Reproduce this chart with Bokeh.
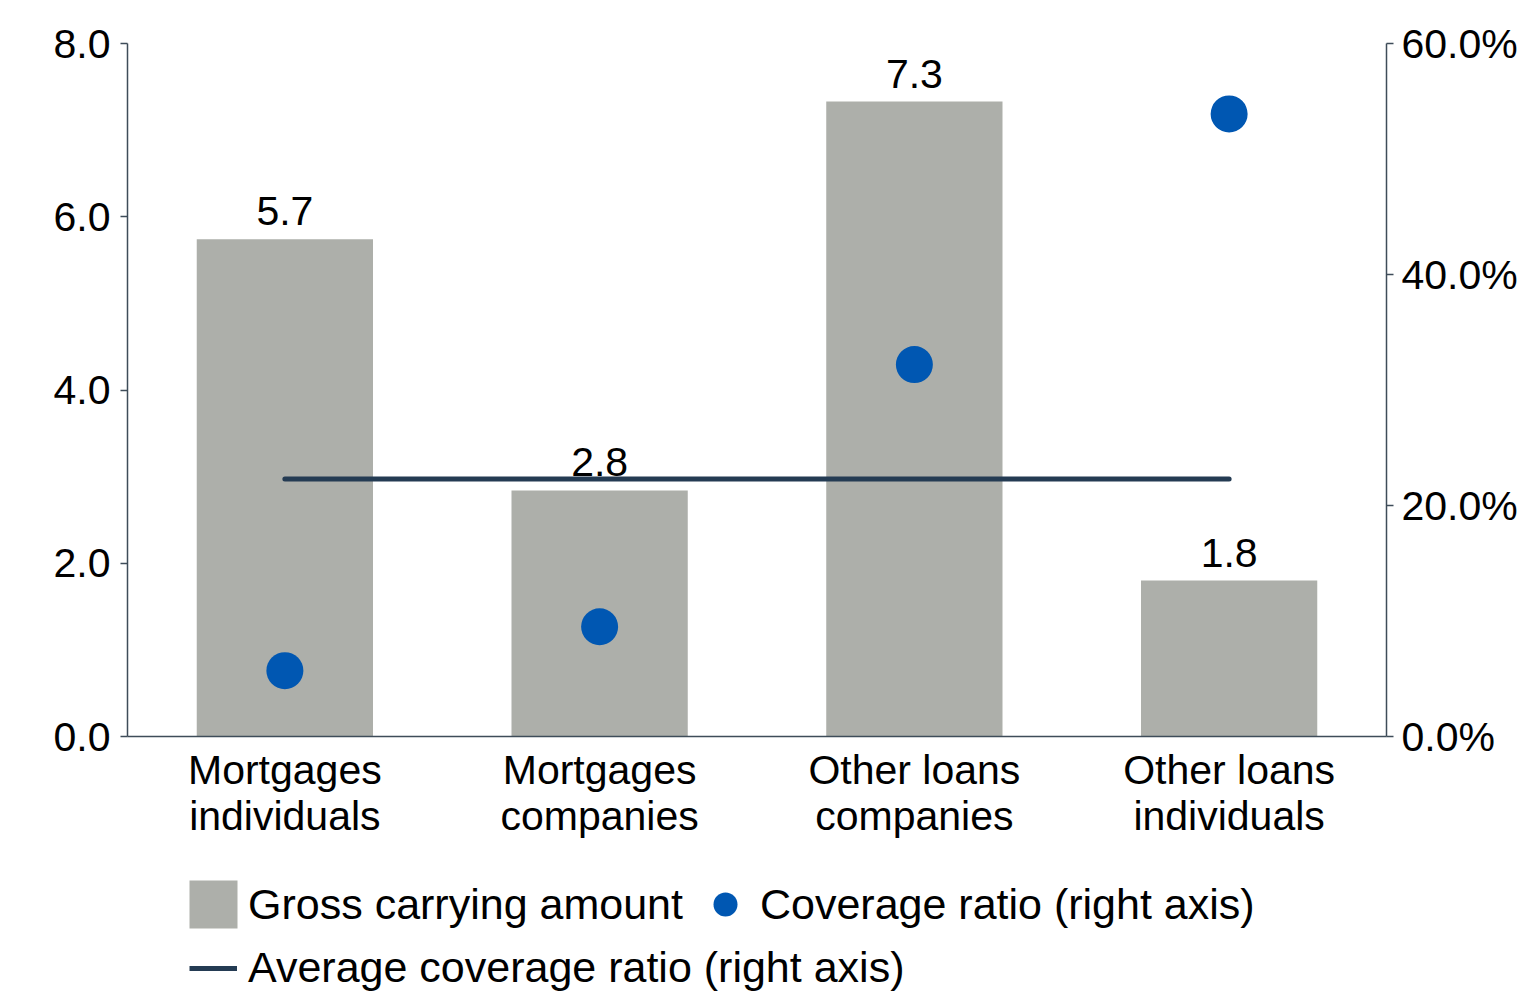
from bokeh.plotting import figure
from bokeh.layouts import column
from bokeh.models import (Range1d, FactorRange, LinearAxis, FixedTicker, PrintfTickFormatter,
                          Legend, LegendItem, ColumnDataSource)
from bokeh.core.properties import value
from bokeh.embed import file_html
from bokeh.resources import INLINE

# ---- data ----
categories = ["Mortgages\nindividuals", "Mortgages\ncompanies", "Other loans\ncompanies", "Other loans\nindividuals"]
gross_carrying_amount = [5.74, 2.84, 7.33, 1.80]
coverage_ratio = [5.7, 9.5, 32.2, 53.9]
average_coverage_ratio = [22.3]
left_ticks = [0, 2, 4, 6, 8]
right_ticks = [0, 20, 40, 60]
legend_labels = ["Gross carrying amount", "Coverage ratio (right axis)", "Average coverage ratio (right axis)"]

FONT = "Liberation Sans"
FS = "41px"
LFS = "43px"
BAR_COLOR = "#ADAFAA"
DOT_COLOR = "#0057B2"
LINE_COLOR = "#243B53"
AXIS_COLOR = "#3E4C59"

MAIN_H = 850
p = figure(width=1532, height=MAIN_H, output_backend="svg", toolbar_location=None,
           x_range=FactorRange(factors=categories, range_padding=0),
           y_range=Range1d(0, 8),
           min_border_left=127, min_border_right=146, min_border_top=43, min_border_bottom=114)
p.extra_y_ranges = {"right": Range1d(0, 60)}
p.outline_line_color = None
p.xgrid.grid_line_color = None
p.ygrid.grid_line_color = None

bar_src = ColumnDataSource(dict(x=categories, top=gross_carrying_amount,
                                lab=[f"{v:.1f}" for v in gross_carrying_amount]))
p.vbar(x="x", top="top", width=0.56, source=bar_src, fill_color=BAR_COLOR, line_color=None)
p.text(x="x", y="top", text="lab", source=bar_src, text_align="center", text_baseline="bottom",
       y_offset=-14, text_font=value(FONT), text_font_size=FS, text_color="black")

p.line(x=categories, y=[average_coverage_ratio[0]] * len(categories), y_range_name="right",
       line_color=LINE_COLOR, line_width=5, line_cap="round")
p.scatter(x=categories, y=coverage_ratio, y_range_name="right", size=37,
          fill_color=DOT_COLOR, line_color=None)

# axes
yl = p.yaxis[0]
yl.ticker = FixedTicker(ticks=left_ticks)
yl.formatter = PrintfTickFormatter(format="%.1f")
xa = p.xaxis[0]

yr = LinearAxis(y_range_name="right", ticker=FixedTicker(ticks=right_ticks),
                formatter=PrintfTickFormatter(format="%.1f%%"))
p.add_layout(yr, "right")

for ax in (xa, yl, yr):
    ax.axis_line_color = AXIS_COLOR
    ax.axis_line_width = 1.5
    ax.major_tick_line_color = AXIS_COLOR
    ax.major_tick_line_width = 1.5
    ax.major_tick_out = 7
    ax.major_tick_in = 0
    ax.minor_tick_line_color = None
    ax.major_label_text_font = FONT
    ax.major_label_text_font_size = FS
    ax.major_label_text_color = "black"
xa.major_tick_line_color = None
xa.major_tick_out = 0
xa.major_label_standoff = 10
xa.major_label_text_line_height = 1.0
yl.major_label_standoff = 10
yr.major_label_standoff = 8

# ---- legend strip (separate figure so nothing is clipped) ----
LEG_H = 992 - MAIN_H
q = figure(width=1532, height=LEG_H, output_backend="svg", toolbar_location=None,
           x_axis_location=None, y_axis_location=None, min_border=0,
           x_range=Range1d(0, 1), y_range=Range1d(0, 1))
q.outline_line_color = None
q.xgrid.grid_line_color = None
q.ygrid.grid_line_color = None
# hidden proxy renderers, used only to draw the legend swatches
r_bar = q.vbar(x=[0], top=[0], width=0.5, fill_color=BAR_COLOR, line_color=None, visible=False)
r_dot = q.scatter(x=[0], y=[0], fill_color=DOT_COLOR, line_color=None, visible=False)
r_line = q.line(x=[0, 0], y=[0, 0], line_color=LINE_COLOR, line_width=5, visible=False)

def style_legend(lg):
    lg.border_line_color = None
    lg.background_fill_alpha = 0
    lg.label_text_font = FONT
    lg.label_text_font_size = LFS
    lg.label_text_color = "black"
    lg.padding = 0
    lg.margin = 0
    lg.click_policy = "none"

leg_a = Legend(items=[LegendItem(label=legend_labels[0], renderers=[r_bar]),
                      LegendItem(label=legend_labels[1], renderers=[r_dot])],
               orientation="horizontal", location=(56, 58))
style_legend(leg_a)
leg_a.glyph_width = 60
leg_a.glyph_height = 60
leg_a.label_standoff = 5
leg_a.spacing = 12

leg_b = Legend(items=[LegendItem(label=legend_labels[2], renderers=[r_line])],
               orientation="horizontal", location=(62, 0))
style_legend(leg_b)
leg_b.glyph_width = 48
leg_b.glyph_height = 30
leg_b.label_standoff = 11
q.add_layout(leg_a, "center")
q.add_layout(leg_b, "center")

layout = column(p, q, spacing=0)
open("out.html", "w").write(file_html(layout, INLINE))
